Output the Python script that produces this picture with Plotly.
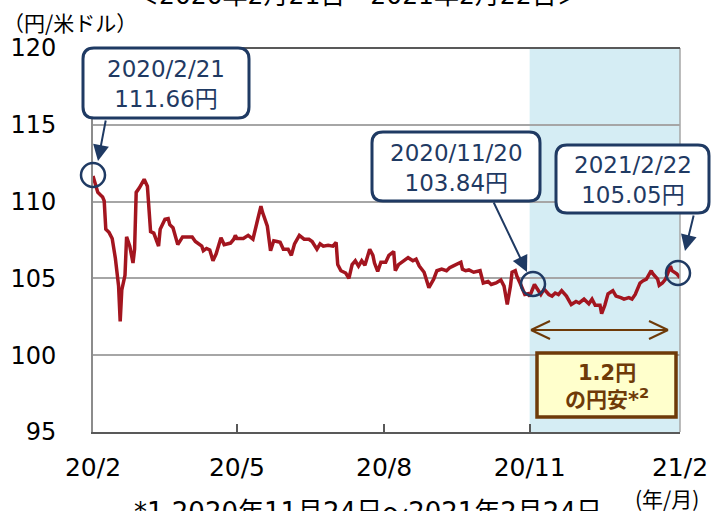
import plotly.graph_objects as go

# ---------------- data ----------------
dates = [
    "2020-02-21", "2020-02-24", "2020-02-26", "2020-02-27", "2020-02-28", "2020-02-29",
    "2020-03-02", "2020-03-04", "2020-03-06", "2020-03-08", "2020-03-09", "2020-03-10",
    "2020-03-12", "2020-03-13", "2020-03-15", "2020-03-17", "2020-03-18", "2020-03-19",
    "2020-03-21", "2020-03-23", "2020-03-24", "2020-03-26", "2020-03-28", "2020-03-30",
    "2020-04-02", "2020-04-03", "2020-04-06", "2020-04-08", "2020-04-09", "2020-04-11",
    "2020-04-14", "2020-04-17", "2020-04-21", "2020-04-23", "2020-04-25", "2020-04-29",
    "2020-04-30", "2020-05-02", "2020-05-04", "2020-05-06", "2020-05-08", "2020-05-11",
    "2020-05-13", "2020-05-17", "2020-05-19", "2020-05-20", "2020-05-21", "2020-05-25",
    "2020-05-28", "2020-05-31", "2020-06-03", "2020-06-05", "2020-06-06", "2020-06-09",
    "2020-06-11", "2020-06-13", "2020-06-15", "2020-06-17", "2020-06-19", "2020-06-22",
    "2020-06-24", "2020-06-26", "2020-06-29", "2020-07-02", "2020-07-05", "2020-07-07",
    "2020-07-10", "2020-07-12", "2020-07-14", "2020-07-17", "2020-07-20", "2020-07-22",
    "2020-07-23", "2020-07-25", "2020-07-28", "2020-07-30", "2020-08-01", "2020-08-03",
    "2020-08-05", "2020-08-07", "2020-08-09", "2020-08-12", "2020-08-14", "2020-08-15",
    "2020-08-17", "2020-08-19", "2020-08-22", "2020-08-24", "2020-08-27", "2020-08-28",
    "2020-08-30", "2020-09-02", "2020-09-05", "2020-09-08", "2020-09-10", "2020-09-12",
    "2020-09-15", "2020-09-18", "2020-09-21", "2020-09-23", "2020-09-26", "2020-09-29",
    "2020-10-01", "2020-10-03", "2020-10-05", "2020-10-08", "2020-10-09", "2020-10-11",
    "2020-10-13", "2020-10-16", "2020-10-20", "2020-10-22", "2020-10-25", "2020-10-27",
    "2020-10-30", "2020-11-02", "2020-11-04", "2020-11-06", "2020-11-08", "2020-11-09",
    "2020-11-11", "2020-11-12", "2020-11-14", "2020-11-16", "2020-11-17", "2020-11-19",
    "2020-11-20", "2020-11-23", "2020-11-25", "2020-11-27", "2020-11-29", "2020-12-02",
    "2020-12-04", "2020-12-06", "2020-12-08", "2020-12-10", "2020-12-13", "2020-12-16",
    "2020-12-19", "2020-12-21", "2020-12-24", "2020-12-27", "2020-12-29", "2020-12-31",
    "2021-01-03", "2021-01-04", "2021-01-06", "2021-01-08", "2021-01-11", "2021-01-13",
    "2021-01-16", "2021-01-18", "2021-01-21", "2021-01-23", "2021-01-25", "2021-01-28",
    "2021-01-30", "2021-02-01", "2021-02-04", "2021-02-05", "2021-02-08", "2021-02-09",
    "2021-02-11", "2021-02-13", "2021-02-16", "2021-02-17", "2021-02-20", "2021-02-22",
]
usdjpy = [
    111.66, 110.6, 110.4, 110.3, 110.05, 108.2,
    108.0, 107.6, 106.3, 104.5, 102.2, 104.25,
    105.2, 107.7, 107.1, 106.0, 106.9, 110.6,
    110.9, 111.35, 111.45, 111.0, 108.05, 107.95,
    107.1, 108.2, 108.85, 108.9, 108.5, 108.3,
    107.2, 107.7, 107.7, 107.7, 107.4, 107.1,
    106.8, 106.95, 106.85, 106.15, 106.6, 107.65,
    107.2, 107.3, 107.55, 107.8, 107.6, 107.6,
    107.8, 107.55, 108.85, 109.7, 109.3, 108.4,
    106.8, 107.45, 107.4, 107.35, 106.9, 106.9,
    106.5, 107.25, 107.8, 107.55, 107.55, 107.4,
    106.9, 107.25, 107.1, 107.15, 107.1, 107.35,
    105.9, 105.5, 105.35, 105.0, 105.9, 106.15,
    105.8, 106.15, 105.85, 106.9, 106.5, 106.0,
    105.45, 106.05, 106.05, 106.5, 106.75, 105.5,
    105.9, 106.15, 106.35, 106.15, 106.25, 105.8,
    105.4, 104.4, 104.95, 105.5, 105.6, 105.5,
    105.7, 105.8, 105.9, 106.05, 105.6, 105.5,
    105.55, 105.4, 105.5, 104.7, 104.8, 104.6,
    104.7, 104.9, 104.5, 103.3, 104.5, 105.4,
    105.5, 105.15, 104.7, 104.15, 103.95, 104.0,
    103.84, 104.6, 104.3, 103.95, 104.3, 103.95,
    103.85, 104.05, 103.95, 104.2, 103.85, 103.3,
    103.5, 103.4, 103.65, 103.35, 103.65, 103.25,
    103.25, 102.7, 103.25, 104.0, 104.2, 103.85,
    103.75, 103.65, 103.75, 103.65, 103.95, 104.7,
    104.85, 104.95, 105.5, 105.3, 104.95, 104.55,
    104.7, 104.95, 105.8, 105.5, 105.3, 105.05,
]

tick_dates = ["2020-02-21", "2020-05-21", "2020-08-21", "2020-11-20", "2021-02-22"]
tick_labels = ["20/2", "20/5", "20/8", "20/11", "21/2"]
y_ticks = [95, 100, 105, 110, 115, 120]

shade_start = "2020-11-20"
shade_end = "2021-02-22"

callout_texts = ["2020/2/21<br>111.66円", "2020/11/20<br>103.84円", "2021/2/22<br>105.05円"]
change_text = "1.2円<br>の円安*<sup>2</sup>"
title_text = "＜2020年2月21日～2021年2月22日＞"
footnote_text = "*1 2020年11月24日～2021年2月24日"
y_unit = "（円/米ドル）"
x_unit = "(年/月)"

# ---------------- layout helpers (pixel -> paper) ----------------
L, R, T, B = 93, 680, 48, 432
def px(x):
    return (x - L) / (R - L)
def py(y):
    return (B - y) / (B - T)

def rounded_rect(x0, y0, x1, y1, r):
    pts = [
        ("M", [(x0 + r, y0)]), ("L", [(x1 - r, y0)]), ("Q", [(x1, y0), (x1, y0 + r)]),
        ("L", [(x1, y1 - r)]), ("Q", [(x1, y1), (x1 - r, y1)]), ("L", [(x0 + r, y1)]),
        ("Q", [(x0, y1), (x0, y1 - r)]), ("L", [(x0, y0 + r)]), ("Q", [(x0, y0), (x0 + r, y0)]),
    ]
    s = ""
    for cmd, ps in pts:
        s += cmd + " " + " ".join(f"{px(a):.5f},{py(b):.5f}" for a, b in ps) + " "
    return s + "Z"

NAVY = "#1f3a63"
RED = "#a3151f"
BROWN = "#6e3a08"
FONT = "DejaVu Sans, Noto Sans CJK JP, sans-serif"
CJK = "Noto Sans CJK JP, DejaVu Sans, sans-serif"

fig = go.Figure()
fig.add_trace(go.Scatter(
    x=dates, y=usdjpy, mode="lines",
    line=dict(color=RED, width=3.5), hoverinfo="skip", showlegend=False,
))

shapes = []
shapes.append(dict(type="rect", xref="x", yref="paper", x0=shade_start, x1=shade_end,
                   y0=0, y1=1, fillcolor="#d5edf4", line=dict(width=0), layer="between"))
shapes.append(dict(type="line", xref="paper", yref="paper", x0=1, x1=1, y0=0, y1=1,
                   line=dict(color="#a6a6a6", width=1.5), layer="above"))
shapes.append(dict(type="line", xref="paper", yref="paper", x0=0, x1=1, y0=1, y1=1,
                   line=dict(color="#595959", width=2), layer="above"))
for cx, cy in [(93, 175), (533, 284), (678, 273)]:
    r = 12
    shapes.append(dict(type="circle", xref="paper", yref="paper",
                       x0=px(cx - r), x1=px(cx + r), y0=py(cy + r), y1=py(cy - r),
                       line=dict(color=NAVY, width=2.5), layer="above"))
boxes = [(83, 48, 249, 118), (372, 132, 540, 201), (556, 145, 709, 213)]
for (x0, y0, x1, y1) in boxes:
    shapes.append(dict(type="path", xref="paper", yref="paper",
                       path=rounded_rect(x0, y0, x1, y1, 11),
                       fillcolor="white", line=dict(color=NAVY, width=3), layer="above"))
ay_ = 330
xl, xr = 531, 668
for (a, b, c, d) in [(xl, ay_, xr, ay_), (xl, ay_, xl + 19, ay_ - 9), (xl, ay_, xl + 19, ay_ + 9),
                     (xr, ay_, xr - 19, ay_ - 9), (xr, ay_, xr - 19, ay_ + 9)]:
    shapes.append(dict(type="line", xref="paper", yref="paper",
                       x0=px(a), x1=px(c), y0=py(b), y1=py(d),
                       line=dict(color=BROWN, width=2), layer="above"))
shapes.append(dict(type="rect", xref="paper", yref="paper",
                   x0=px(537), x1=px(676), y0=py(417), y1=py(353),
                   fillcolor="#ffffcc", line=dict(color=BROWN, width=3.5), layer="above"))

annotations = []
for txt, (x0, y0, x1, y1) in zip(callout_texts, boxes):
    annotations.append(dict(xref="paper", yref="paper", x=px((x0 + x1) / 2), y=py((y0 + y1) / 2 + 1),
                            text=txt, showarrow=False, xanchor="center", yanchor="middle",
                            font=dict(family=FONT, size=23, color=NAVY)))
for (hx, hy), (tx, ty) in [((98, 161), (106, 119)), ((527, 272), (493, 201)), ((685, 251), (694, 214))]:
    annotations.append(dict(xref="paper", yref="paper", x=px(hx), y=py(hy), text="",
                            showarrow=True, axref="pixel", ayref="pixel", ax=tx - hx, ay=ty - hy,
                            arrowhead=2, arrowsize=1.6, arrowwidth=2, arrowcolor=NAVY, standoff=0))
annotations.append(dict(xref="paper", yref="paper", x=px(606.5), y=py(386), text="<b>" + change_text + "</b>",
                        showarrow=False, xanchor="center", yanchor="middle",
                        font=dict(family=FONT, size=21, color=BROWN)))
annotations.append(dict(xref="paper", yref="paper", x=px(358), y=py(12), text=title_text,
                        showarrow=False, xanchor="center", yanchor="bottom",
                        font=dict(family=FONT, size=25, color="black")))
annotations.append(dict(xref="paper", yref="paper", x=px(132), y=py(495), text=footnote_text,
                        showarrow=False, xanchor="left", yanchor="top",
                        font=dict(family=FONT, size=26, color="black")))
annotations.append(dict(xref="paper", yref="paper", x=px(70), y=py(22), text=y_unit,
                        showarrow=False, xanchor="center", yanchor="middle",
                        font=dict(family=CJK, size=21, color="black")))
annotations.append(dict(xref="paper", yref="paper", x=px(667), y=py(498), text=x_unit,
                        showarrow=False, xanchor="center", yanchor="middle",
                        font=dict(family=CJK, size=21, color="black")))

fig.update_layout(
    width=711, height=511, autosize=False,
    margin=dict(l=L, r=711 - R, t=T, b=511 - B, autoexpand=False),
    paper_bgcolor="white", plot_bgcolor="white",
    shapes=shapes, annotations=annotations,
    xaxis=dict(type="date", range=[dates[0], dates[-1]], tickvals=tick_dates, ticktext=tick_labels,
               ticks="inside", ticklen=8, tickwidth=2, tickcolor="#595959", automargin=False,
               showline=True, linecolor="#595959", linewidth=2, showgrid=False, zeroline=False,
               tickfont=dict(family=FONT, size=25, color="black"), ticklabelstandoff=12),
    yaxis=dict(range=[95, 120], tickvals=y_ticks, showgrid=True, gridcolor="#a6a6a6", gridwidth=2,
               showline=True, linecolor="#8c8c8c", linewidth=2, zeroline=False, ticks="", automargin=False,
               tickfont=dict(family=FONT, size=24, color="black"), ticklabelstandoff=30),
)

fig.write_html("out.html", config={"displayModeBar": False},
               post_script="document.body.style.margin='0';document.body.style.overflow='hidden';")
